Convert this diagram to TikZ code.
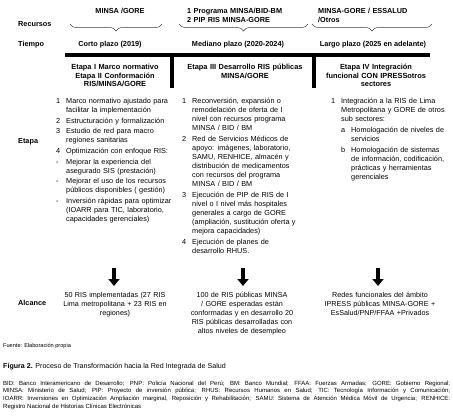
\documentclass[tikz,border=0pt]{standalone}
\usepackage{fontspec}
\setmainfont{Liberation Sans}
\usetikzlibrary{arrows.meta, decorations.pathreplacing, positioning}

\newcommand{\listfont}{\fontsize{7.3}{9.1}\selectfont}
\newcommand{\planitem}[2]{\noindent\makebox[10pt][l]{#1}\parbox[t]{\dimexpr\linewidth-10pt\relax}{\listfont #2\strut}\par\prevdepth=\dp\strutbox\vspace{1.5pt}}
\newcommand{\plansubitem}[2]{\noindent\hspace*{10pt}\makebox[10pt][l]{#1}\parbox[t]{\dimexpr\linewidth-20pt\relax}{\listfont #2\strut}\par\prevdepth=\dp\strutbox\vspace{1.5pt}}

\begin{document}
\begin{tikzpicture}[
    x=1pt, y=-1pt,
    row_label/.style={
        anchor=base west,
        inner sep=0pt,
        font=\fontsize{7.3}{8.5}\selectfont\bfseries
    },
    res_text/.style={
        inner sep=0pt,
        align=left,
        font=\fontsize{7.3}{9}\selectfont\bfseries
    },
    stage_head/.style={
        anchor=base,
        inner sep=0pt,
        text width=140pt,
        align=center,
        font=\fontsize{7.4}{8.5}\selectfont\bfseries
    },
    stage_list/.style={
        anchor=base west,
        inner sep=0pt,
        text width=#1,
        align=left,
        font=\listfont
    },
    scope_text/.style={
        anchor=base,
        inner sep=0pt,
        text width=130pt,
        align=center,
        font=\fontsize{7.2}{9}\selectfont
    },
    time_brace/.style={
        decorate,
        decoration={brace, mirror, amplitude=7pt},
        draw=black!75,
        line width=0.5pt
    },
    bar/.style={
        line width=4pt,
        draw=black
    },
    down_arrow/.style={
        -{Triangle[width=11pt,length=7pt]},
        line width=3.6pt
    }
]
    \path[use as bounding box, fill=white] (0,0) rectangle (453,416);

    % Row labels
    \node (lbl_res) [row_label] at (18,26.5) {Recursos};
    \node (lbl_time) [row_label] at (18,46.5) {Tiempo};
    \node (lbl_stage) [row_label] at (18,143) {Etapa};
    \node (lbl_scope) [row_label] at (18,305.5) {Alcance};

    % Resources and braces
    \node (res1) [res_text, anchor=base] at (120,13.5) {MINSA /GORE};
    \node (res2) [res_text, anchor=base west, text width=130pt] at (187,13.5) {1 Programa MINSA/BID-BM\\2 PIP RIS MINSA-GORE};
    \node (res3) [res_text, anchor=base west, text width=130pt] at (318,13.5) {MINSA-GORE / ESSALUD\\/Otros};

    \draw [time_brace] (70,24) -- (162,24);
    \draw [time_brace] (179,24) -- (308,24);
    \draw [time_brace] (312,24) -- (432,24);

    % Time horizon
    \node (time1) [res_text, anchor=base] at (110,46.5) {Corto plazo (2019)};
    \node (time2) [res_text, anchor=base] at (238,46.5) {Mediano plazo (2020-2024)};
    \node (time3) [res_text, anchor=base] at (373,46.5) {Largo plazo (2025 en adelante)};

    \draw [bar] (65,55) -- (430,55);
    \draw [bar] (171.5,55) -- (171.5,88);
    \draw [bar] (314,55) -- (314,88);

    % Stages
    \node (stage1) [stage_head] at (115,69.5) {Etapa I Marco normativo\\Etapa II Conformación\\RIS/MINSA/GORE};
    \node (stage2) [stage_head] at (245,69.5) {Etapa III Desarrollo RIS públicas\\MINSA/GORE};
    \node (stage3) [stage_head] at (376,69.5) {Etapa IV Integración\\funcional CON IPRESSotros\\sectores};

    \node (list1) [stage_list=122pt] at (56,103.5) {
        \planitem{1}{Marco normativo ajustado para\\facilitar la implementación}
        \planitem{2}{Estructuración y formalización}
        \planitem{3}{Estudio de red para macro\\regiones sanitarias}
        \planitem{4}{Optimización con enfoque RIS:}
        \planitem{-}{Mejorar la experiencia del\\asegurado SIS (prestación)}
        \planitem{-}{Mejorar el uso de los recursos\\públicos disponibles ( gestión)}
        \planitem{-}{Inversión rápidas para optimizar\\(IOARR para TIC, laboratorio,\\capacidades gerenciales)}
    };
    \node (list2) [stage_list=135pt] at (182,103.5) {
        \planitem{1}{Reconversión, expansión o\\remodelación de oferta de I\\nivel con recursos programa\\MINSA / BID / BM}
        \planitem{2}{Red de Servicios Médicos de\\apoyo: imágenes, laboratorio,\\SAMU, RENHICE, almacén y\\distribución de medicamentos\\con recursos del programa\\MINSA / BID / BM}
        \planitem{3}{Ejecución de PIP de RIS de I\\nivel o I nivel más hospitales\\generales a cargo de GORE\\(ampliación, sustitución oferta y\\mejora capacidades)}
        \planitem{4}{Ejecución de planes de\\desarrollo RHUS.}
    };
    \node (list3) [stage_list=122pt] at (331,103.5) {
        \planitem{1}{Integración a la RIS de Lima\\Metropolitana y GORE de otros\\sub sectores:}
        \plansubitem{a}{Homologación de niveles de\\servicios}
        \plansubitem{b}{Homologación de sistemas\\de información, codificación,\\prácticas y herramientas\\gerenciales}
    };

    % Scope
    \node (scope1) [scope_text] at (115,297.5) {50 RIS implementadas (27 RIS\\Lima metropolitana + 23 RIS en\\regiones)};
    \node (scope2) [scope_text] at (242,297.5) {100 de RIS públicas MINSA\\/ GORE esperadas están\\conformadas y en desarrollo 20\\RIS públicas desarrolladas con\\altos niveles de desempleo};
    \node (scope3) [scope_text] at (380,297.5) {Redes funcionales del ámbito\\IPRESS públicas MINSA-GORE +\\EsSalud/PNP/FFAA +Privados};

    \coordinate (arr1) at (114,268);
    \coordinate (arr2) at (243,268);
    \coordinate (arr3) at (378,268);
    \draw [down_arrow] (arr1) -- ++(0,18);
    \draw [down_arrow] (arr2) -- ++(0,18);
    \draw [down_arrow] (arr3) -- ++(0,18);

    % Source, caption and abbreviations
    \node (source) [anchor=base west, inner sep=0pt, font=\fontsize{5.6}{6.5}\selectfont] at (3,347) {Fuente: Elaboración propia};
    \node (caption) [anchor=base west, inner sep=0pt, font=\fontsize{7.1}{8}\selectfont] at (3,368) {\textbf{Figura 2.} Proceso de Transformación hacia la Red Integrada de Salud};
    \node (abbrev) [anchor=base west, inner sep=0pt, text width=447pt, align=justify, font=\fontsize{6}{7.9}\selectfont] at (3,385) {BID: Banco Interamericano de Desarrollo; PNP: Policía Nacional del Perú; BM: Banco Mundial; FFAA: Fuerzas Armadas; GORE: Gobierno Regional;\linebreak MINSA: Ministerio de Salud; PIP: Proyecto de inversión pública; RHUS: Recursos Humanos en Salud; TIC: Tecnología Información y Comunicación;\linebreak IOARR: Inversiones en Optimización Ampliación marginal, Reposición y Rehabilitación; SAMU: Sistema de Atención Médica Móvil de Urgencia; RENHICE:\linebreak Registro Nacional de Historias Clínicas Electrónicas};

\end{tikzpicture}
\end{document}
